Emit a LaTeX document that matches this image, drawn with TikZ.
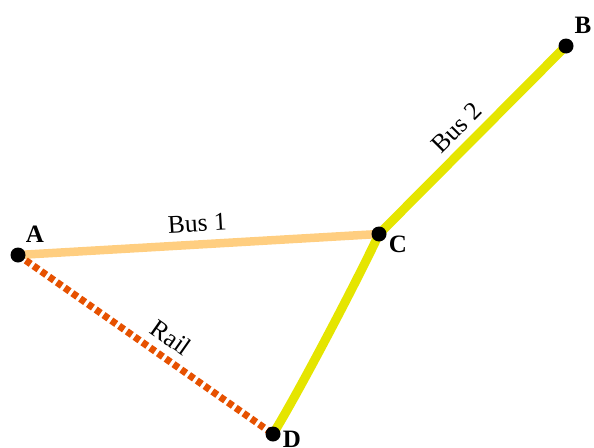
\documentclass[tikz,border=0pt]{standalone}
\usepackage{fontspec}
\setmainfont{Liberation Serif}
\begin{document}
\begin{tikzpicture}[x=1pt,y=-1pt,
  stop/.style={circle,fill=black,inner sep=0pt,minimum size=15pt},
  stoplabel/.style={font=\fontsize{25}{27}\selectfont\bfseries,inner sep=0pt},
  linelabel/.style={font=\fontsize{25.5}{27}\selectfont,inner sep=0pt},
  busone/.style={draw={rgb,255:red,255;green,206;blue,128},line width=8.5pt},
  bustwo/.style={draw={rgb,255:red,229;green,229;blue,0},line width=9pt},
  rail/.style={draw={rgb,255:red,230;green,81;blue,0},line width=7pt,dash pattern=on 6pt off 3.5pt}]
\useasboundingbox (0,0) rectangle (594,447);
\coordinate (A) at (18,255);
\coordinate (B) at (566,46);
\coordinate (C) at (379,234);
\coordinate (D) at (273,434);
\draw[busone] (A) -- (C) node[midway,above=8.5pt,sloped,linelabel] {Bus 1};
\draw[bustwo] (C) -- (B) node[pos=0.49,above=7pt,sloped,linelabel] {Bus 2};
\draw[bustwo] (C) .. controls (360,275) and (300,390) .. (D);
\draw[rail] (A) -- (D) node[pos=0.555,above=8pt,sloped,linelabel] {Rail};
\node[stop] (a) at (A) {};
\node[stop] (b) at (B) {};
\node[stop] (c) at (C) {};
\node[stop] (d) at (D) {};
\node[stoplabel] at (35,234) {A};
\node[stoplabel] at (583,25) {B};
\node[stoplabel] at (398,244) {C};
\node[stoplabel] at (292,439) {D};
\end{tikzpicture}
\end{document}
